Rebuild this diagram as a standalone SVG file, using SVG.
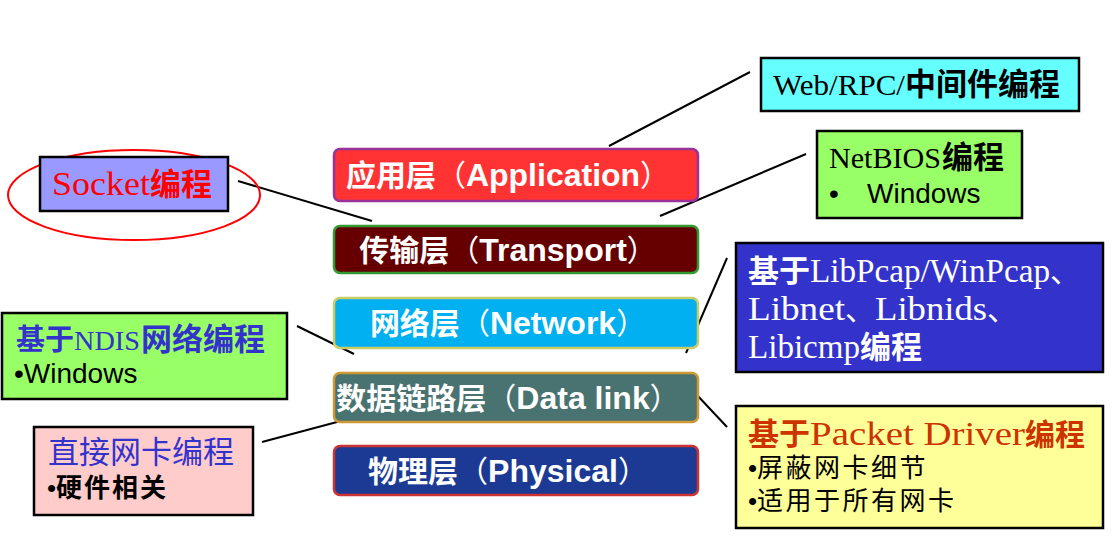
<svg xmlns="http://www.w3.org/2000/svg" width="1115" height="545" viewBox="0 0 1115 545">
<style>
.box{stroke:#000;stroke-width:2.5}
.lay{stroke-width:2.5}
.cn{font-family:"Liberation Sans","Noto Sans CJK SC",sans-serif}
.b{font-weight:bold}
.lat{font-family:"Liberation Serif",serif;font-size:33px}
.sans{font-family:"Liberation Sans",Arial,sans-serif}
.lt{font-family:"Liberation Sans",Arial,sans-serif;font-weight:bold;font-size:32px}
.lc{font-family:"Liberation Sans","Noto Sans CJK SC",sans-serif;font-weight:bold;font-size:30px}
.lp{font-family:"Liberation Sans","Noto Sans CJK SC",sans-serif;font-size:30px}
.conn line{stroke:#000;stroke-width:2}
</style>
<rect width="1115" height="545" fill="#fff"/>
<g class="conn">
<line x1="609" y1="146" x2="750" y2="72"/>
<line x1="660" y1="216" x2="806" y2="154"/>
<line x1="238" y1="181" x2="372" y2="221"/>
<line x1="686" y1="353" x2="727" y2="258"/>
<line x1="297" y1="326" x2="354" y2="354"/>
<line x1="680" y1="377" x2="727" y2="427"/>
<line x1="262" y1="442" x2="352" y2="418"/>
</g>
<g id="app">
<rect class="lay" x="334" y="149" width="364" height="52" rx="6" fill="#ff3333" stroke="#993399"/>
<text x="508" y="186" text-anchor="middle" fill="#fff"><tspan class="lc">应用层</tspan><tspan class="lp">（</tspan><tspan class="lt">Application</tspan><tspan class="lp">）</tspan></text>
</g>
<g id="transport">
<rect class="lay" x="334" y="226" width="364" height="47" rx="6" fill="#660000" stroke="#339933"/>
<text x="508" y="261" text-anchor="middle" fill="#fff"><tspan class="lc">传输层</tspan><tspan class="lp">（</tspan><tspan class="lt">Transport</tspan><tspan class="lp">）</tspan></text>
</g>
<g id="network">
<rect class="lay" x="334" y="298" width="364" height="50" rx="6" fill="#00b0f0" stroke="#cccc66"/>
<text x="508" y="334" text-anchor="middle" fill="#fff"><tspan class="lc">网络层</tspan><tspan class="lp">（</tspan><tspan class="lt">Network</tspan><tspan class="lp">）</tspan></text>
</g>
<g id="datalink">
<rect class="lay" x="334" y="373" width="364" height="49" rx="6" fill="#497370" stroke="#cc9933"/>
<text x="508" y="409" text-anchor="middle" fill="#fff"><tspan class="lc">数据链路层</tspan><tspan class="lp">（</tspan><tspan class="lt">Data link</tspan><tspan class="lp">）</tspan></text>
</g>
<g id="physical">
<rect class="lay" x="334" y="446" width="364" height="49" rx="6" fill="#1c3a94" stroke="#cc3333"/>
<text x="508" y="482" text-anchor="middle" fill="#fff"><tspan class="lc">物理层</tspan><tspan class="lp">（</tspan><tspan class="lt">Physical</tspan><tspan class="lp">）</tspan></text>
</g>
<g id="socket">
<ellipse cx="134" cy="195" rx="126" ry="45" fill="none" stroke="#ff0000" stroke-width="2"/>
<rect class="box" x="40" y="157" width="188" height="54" fill="#9999ff"/>
<text x="52" y="195" fill="#ff0000"><tspan class="lat" textLength="98" lengthAdjust="spacingAndGlyphs">Socket</tspan><tspan class="cn b" font-size="31">编程</tspan></text>
</g>
<g id="web">
<rect class="box" x="761" y="58" width="318" height="53" fill="#66ffff"/>
<text x="773" y="95" fill="#000"><tspan class="lat" style="font-size:30px" textLength="132" lengthAdjust="spacingAndGlyphs">Web/RPC/</tspan><tspan class="cn b" font-size="31">中间件编程</tspan></text>
</g>
<g id="netbios">
<rect class="box" x="817" y="131" width="205" height="87" fill="#99ff66"/>
<text x="829" y="168" fill="#000"><tspan class="lat" style="font-size:29px" textLength="112" lengthAdjust="spacingAndGlyphs">NetBIOS</tspan><tspan class="cn b" font-size="31" dx="1">编程</tspan></text>
<text y="203" fill="#000" class="sans" font-size="28"><tspan x="829">•</tspan><tspan x="867">Windows</tspan></text>
</g>
<g id="libpcap">
<rect class="box" x="736" y="243" width="367" height="129" fill="#3333cc"/>
<text x="748" y="282" fill="#fff"><tspan class="cn b" font-size="31">基于</tspan><tspan class="lat" textLength="240" lengthAdjust="spacingAndGlyphs">LibPcap/WinPcap</tspan><tspan class="cn" font-size="30">、</tspan></text>
<text x="748" y="320" fill="#fff"><tspan class="lat" textLength="97" lengthAdjust="spacingAndGlyphs">Libnet</tspan><tspan class="cn" font-size="30">、</tspan><tspan class="lat" textLength="112" lengthAdjust="spacingAndGlyphs">Libnids</tspan><tspan class="cn" font-size="30">、</tspan></text>
<text x="748" y="358" fill="#fff"><tspan class="lat" textLength="112" lengthAdjust="spacingAndGlyphs">Libicmp</tspan><tspan class="cn b" font-size="31">编程</tspan></text>
</g>
<g id="packet">
<rect class="box" x="736" y="406" width="367" height="122" fill="#ffff99"/>
<text x="748" y="445" fill="#cc3300"><tspan class="cn b" font-size="31">基于</tspan><tspan class="lat" textLength="215" lengthAdjust="spacingAndGlyphs">Packet Driver</tspan><tspan class="cn b" font-size="30">编程</tspan></text>
<text x="748" y="477" fill="#000" font-size="26"><tspan class="sans">•</tspan><tspan class="cn" letter-spacing="2.5">屏蔽网卡细节</tspan></text>
<text x="748" y="510" fill="#000" font-size="26"><tspan class="sans">•</tspan><tspan class="cn" letter-spacing="2.5">适用于所有网卡</tspan></text>
</g>
<g id="ndis">
<rect class="box" x="2" y="313" width="285" height="86" fill="#99ff66"/>
<text x="16" y="350" fill="#3333cc"><tspan class="cn b" font-size="29">基于</tspan><tspan class="lat" style="font-size:27px" textLength="66" lengthAdjust="spacingAndGlyphs">NDIS</tspan><tspan class="cn b" font-size="31" dx="1">网络编程</tspan></text>
<text x="14" y="383" fill="#000" class="sans" font-size="28">•Windows</text>
</g>
<g id="direct">
<rect class="box" x="34" y="427" width="219" height="88" fill="#ffcccc"/>
<text x="48" y="463" fill="#3333cc" class="cn" font-size="31">直接网卡编程</text>
<text x="47" y="497" fill="#000" font-size="26"><tspan class="sans">•</tspan><tspan class="cn b" letter-spacing="2">硬件相关</tspan></text>
</g>
</svg>
